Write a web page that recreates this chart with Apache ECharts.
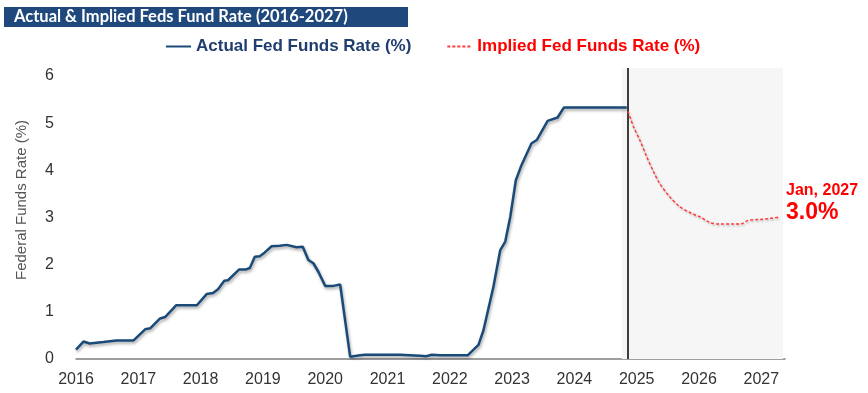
<!DOCTYPE html>
<html>
<head>
<meta charset="utf-8">
<script src="https://cdn.jsdelivr.net/npm/echarts@6/dist/echarts.min.js"></script>
<style>
  html, body { margin: 0; padding: 0; background: #ffffff; }
  #chart { width: 868px; height: 393px; }
</style>
</head>
<body>
<div id="chart"></div>
<script>
// ---- Data (decimal year, rate %) ----
const xTickYears = [2016, 2017, 2018, 2019, 2020, 2021, 2022, 2023, 2024, 2025, 2026, 2027];
const yTickValues = [0, 1, 2, 3, 4, 5, 6];

const actualDates = [
  2016.00, 2016.12, 2016.22, 2016.44, 2016.65, 2016.92, 2017.11, 2017.19, 2017.35, 2017.43,
  2017.61, 2017.94, 2018.10, 2018.20, 2018.28, 2018.38, 2018.44, 2018.62, 2018.73, 2018.79,
  2018.87, 2018.95, 2019.03, 2019.14, 2019.27, 2019.38, 2019.54, 2019.64, 2019.73, 2019.81,
  2019.89, 2020.00, 2020.13, 2020.24, 2020.40, 2020.56, 2020.64, 2021.20, 2021.52, 2021.62,
  2021.71, 2021.84, 2022.29, 2022.46, 2022.54, 2022.70, 2022.81, 2022.89, 2022.97, 2023.06,
  2023.15, 2023.31, 2023.40, 2023.57, 2023.73, 2023.83, 2024.84
];
const actualRates = [
  0.20, 0.37, 0.33, 0.36, 0.39, 0.39, 0.63, 0.65, 0.86, 0.89,
  1.14, 1.14, 1.38, 1.40, 1.48, 1.66, 1.67, 1.90, 1.90, 1.93,
  2.17, 2.18, 2.26, 2.39, 2.40, 2.42, 2.37, 2.38, 2.10, 2.03,
  1.85, 1.55, 1.55, 1.58, 0.05, 0.08, 0.09, 0.09, 0.07, 0.06,
  0.09, 0.08, 0.08, 0.30, 0.61, 1.53, 2.31, 2.49, 3.01, 3.79,
  4.11, 4.57, 4.65, 5.05, 5.12, 5.33, 5.33
];

const impliedDates = [
  2024.86, 2024.95, 2025.05, 2025.16, 2025.27, 2025.37, 2025.53, 2025.69, 2025.86, 2026.02,
  2026.18, 2026.34, 2026.55, 2026.69, 2026.79, 2026.98, 2027.14, 2027.30
];
const impliedRates = [
  5.25, 4.92, 4.64, 4.29, 3.97, 3.72, 3.44, 3.23, 3.10, 3.01,
  2.89, 2.86, 2.86, 2.87, 2.94, 2.96, 2.98, 3.01
];

const forecastLine = 2024.86;
const forecastShadeStart = 2024.76;
const forecastShadeEnd = 2027.35;
const xMin = 2016, xMax = 2027.38;
const yMin = 0, yMax = 6.17;

const endLabelTop = 'Jan, 2027';
const endLabelValue = '3.0%';

const actualData = actualDates.map((d, i) => [d, actualRates[i]]);
const impliedData = impliedDates.map((d, i) => [d, impliedRates[i]]);

const chart = echarts.init(document.getElementById('chart'), null, { renderer: 'canvas' });

const option = {
  animation: false,
  backgroundColor: '#ffffff',
  graphic: [
    {
      type: 'rect',
      left: 4, top: 7,
      shape: { width: 404, height: 20 },
      style: { fill: '#1f497d' },
      silent: true
    },
    {
      type: 'text',
      left: 14, top: 8,
      style: {
        text: 'Actual & Implied Feds Fund Rate (2016-2027)',
        fill: '#ffffff',
        font: 'bold 16.5px Lato, "Liberation Sans", sans-serif'
      },
      silent: true
    }
  ],
  legend: {
    left: 165, top: 38,
    padding: 0,
    itemWidth: 25, itemHeight: 14,
    itemGap: 35,
    selectedMode: false,
    itemStyle: { opacity: 0 },
    textStyle: { fontSize: 17, fontWeight: 'bold', fontFamily: '"Liberation Sans", Arial, sans-serif' },
    data: [
      { name: 'Actual Fed Funds Rate (%)', textStyle: { color: '#1f3d6e' } },
      { name: 'Implied Fed Funds Rate (%)', textStyle: { color: '#ff0000' } }
    ]
  },
  grid: { left: 76, right: 83, top: 68, bottom: 34, containLabel: false },
  xAxis: {
    type: 'value',
    min: xMin, max: xMax, interval: 1,
    splitLine: { show: false },
    axisTick: { show: false },
    axisLine: { show: true, lineStyle: { color: '#7f7f7f', width: 1.5 } },
    axisLabel: {
      show: true, margin: 13, showMaxLabel: false,
      color: '#333333', fontSize: 16,
      fontFamily: '"Liberation Sans", Arial, sans-serif',
      formatter: v => {
        const y = Math.round(v);
        return (Math.abs(v - y) < 1e-6 && xTickYears.includes(y)) ? String(y) : '';
      }
    }
  },
  yAxis: {
    type: 'value',
    min: yMin, max: yMax, interval: 1,
    name: 'Federal Funds Rate (%)',
    nameLocation: 'middle',
    nameGap: 47,
    nameTextStyle: {
      color: '#555555', fontSize: 15,
      fontFamily: '"Liberation Sans", Arial, sans-serif',
      padding: [0, 0, 0, 27]
    },
    splitLine: { show: false },
    axisTick: { show: false },
    axisLine: { show: false },
    axisLabel: {
      margin: 22, showMaxLabel: false,
      color: '#333333', fontSize: 16,
      fontFamily: '"Liberation Sans", Arial, sans-serif',
      formatter: v => (yTickValues.includes(Math.round(v)) && Math.abs(v - Math.round(v)) < 1e-6) ? String(Math.round(v)) : ''
    }
  },
  series: [
    {
      name: 'Actual Fed Funds Rate (%)',
      type: 'line',
      data: actualData,
      symbol: 'none',
      z: 5,
      lineStyle: {
        color: '#1a4a78', width: 2.5,
        shadowColor: 'rgba(0,0,0,0.35)', shadowBlur: 3, shadowOffsetX: 1, shadowOffsetY: 2
      },
      itemStyle: { color: '#1a4a78' },
      markArea: {
        silent: true,
        itemStyle: { color: '#f6f6f6' },
        data: [[{ xAxis: forecastShadeStart }, { xAxis: forecastShadeEnd }]]
      },
      markLine: {
        silent: true,
        symbol: ['none', 'none'],
        label: { show: false },
        lineStyle: { color: '#000000', width: 1.5, type: 'solid' },
        data: [{ xAxis: forecastLine }]
      }
    },
    {
      name: 'Implied Fed Funds Rate (%)',
      type: 'line',
      data: impliedData,
      symbol: 'none',
      smooth: 0.3,
      z: 6,
      lineStyle: {
        color: '#ff3b3b', width: 1.5, type: [3, 2],
        shadowColor: 'rgba(0,0,0,0.25)', shadowBlur: 2, shadowOffsetX: 1, shadowOffsetY: 1.5
      },
      itemStyle: { color: '#ff3b3b' },
      endLabel: {
        show: true,
        distance: 6,
        offset: [0, -14],
        formatter: () => '{a|' + endLabelTop + '}\n{b|' + endLabelValue + '}',
        rich: {
          a: { color: '#ff0000', fontSize: 16, fontWeight: 'bold', fontFamily: '"Liberation Sans", Arial, sans-serif', lineHeight: 19 },
          b: { color: '#ff0000', fontSize: 23, fontWeight: 'bold', fontFamily: '"Liberation Sans", Arial, sans-serif', lineHeight: 24 }
        }
      }
    }
  ]
};

chart.setOption(option);
</script>
</body>
</html>
